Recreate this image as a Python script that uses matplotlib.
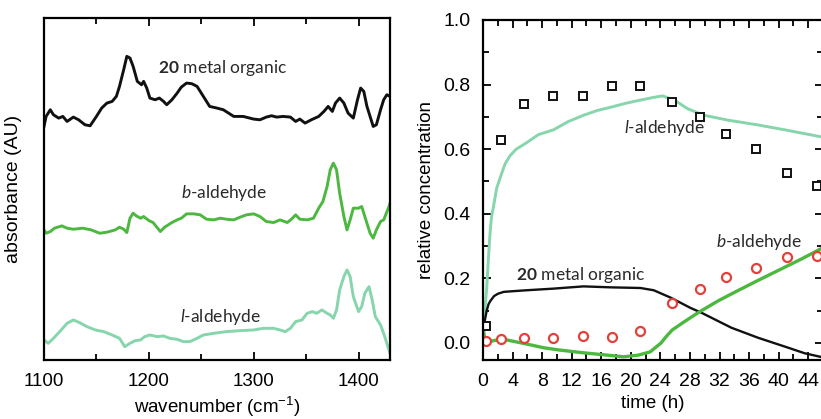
import matplotlib
matplotlib.use("Agg")
import matplotlib.pyplot as plt
from matplotlib.ticker import MultipleLocator, NullLocator, FormatStrFormatter

plt.rcParams['font.family'] = ['Liberation Sans', 'DejaVu Sans']
# annotations use a Calibri-like face with bold / italic parts via mathtext
plt.rcParams['mathtext.fontset'] = 'custom'
plt.rcParams['mathtext.rm'] = 'Lato'
plt.rcParams['mathtext.it'] = 'Lato:italic'
plt.rcParams['mathtext.bf'] = 'Lato:bold'
plt.rcParams['mathtext.sf'] = 'Liberation Sans'

# ---- left panel: IR spectra (arbitrary absorbance, offset traces) ----
wn_metal = [1100, 1102, 1106, 1109, 1114, 1118, 1122, 1128, 1133, 1139, 1144, 1150,
            1155, 1160, 1165, 1169, 1172, 1176, 1179, 1182, 1185, 1189, 1193, 1195,
            1198, 1201, 1206, 1210, 1214, 1217, 1222, 1227, 1231, 1236, 1241, 1246,
            1249, 1254, 1258, 1265, 1271, 1276, 1281, 1290, 1300, 1306, 1312, 1317,
            1322, 1328, 1335, 1340, 1344, 1349, 1355, 1362, 1367, 1371, 1375, 1378,
            1382, 1386, 1390, 1395, 1399, 1402, 1405, 1408, 1411, 1414, 1417, 1421,
            1424, 1427, 1430]
ab_metal = [0.700, 0.730, 0.750, 0.735, 0.725, 0.730, 0.715, 0.728, 0.720, 0.705, 0.702, 0.730,
            0.755, 0.770, 0.775, 0.790, 0.820, 0.870, 0.910, 0.905, 0.880, 0.835, 0.825, 0.835,
            0.815, 0.785, 0.780, 0.785, 0.775, 0.765, 0.780, 0.800, 0.818, 0.830, 0.828, 0.820,
            0.805, 0.780, 0.760, 0.755, 0.750, 0.740, 0.730, 0.730, 0.722, 0.720, 0.728, 0.732,
            0.728, 0.730, 0.728, 0.715, 0.722, 0.710, 0.720, 0.730, 0.745, 0.760, 0.745, 0.770,
            0.785, 0.770, 0.740, 0.725, 0.780, 0.815, 0.805, 0.760, 0.730, 0.700, 0.705, 0.750,
            0.780, 0.795, 0.790]

wn_b = [1100, 1102, 1106, 1110, 1117, 1122, 1128, 1137, 1145, 1153, 1160, 1168,
        1172, 1176, 1179, 1182, 1185, 1188, 1192, 1195, 1200, 1204, 1211, 1215,
        1222, 1227, 1231, 1236, 1243, 1249, 1255, 1262, 1268, 1274, 1281, 1287,
        1293, 1300, 1306, 1312, 1319, 1325, 1332, 1336, 1340, 1344, 1351, 1357,
        1362, 1366, 1370, 1373, 1376, 1379, 1382, 1386, 1389, 1392, 1395, 1400,
        1403, 1406, 1411, 1414, 1417, 1421, 1424, 1429, 1430]
ab_b = [0.390, 0.380, 0.385, 0.395, 0.402, 0.395, 0.392, 0.395, 0.390, 0.380, 0.383, 0.390,
        0.398, 0.392, 0.382, 0.425, 0.440, 0.432, 0.425, 0.430, 0.418, 0.412, 0.385, 0.398,
        0.412, 0.420, 0.425, 0.438, 0.438, 0.435, 0.422, 0.420, 0.425, 0.422, 0.420, 0.428,
        0.435, 0.438, 0.430, 0.415, 0.412, 0.420, 0.412, 0.422, 0.435, 0.422, 0.420, 0.425,
        0.455, 0.475, 0.520, 0.570, 0.590, 0.570, 0.500, 0.430, 0.390, 0.420, 0.455, 0.455,
        0.460, 0.430, 0.380, 0.365, 0.390, 0.415, 0.420, 0.460, 0.470]

wn_l = [1100, 1104, 1109, 1115, 1122, 1128, 1134, 1141, 1149, 1157, 1165, 1172,
        1177, 1182, 1187, 1192, 1196, 1201, 1208, 1214, 1220, 1227, 1233, 1239,
        1246, 1252, 1262, 1274, 1287, 1300, 1309, 1319, 1325, 1330, 1335, 1340,
        1346, 1351, 1356, 1360, 1365, 1370, 1373, 1376, 1379, 1382, 1386, 1389,
        1392, 1395, 1400, 1403, 1406, 1410, 1413, 1416, 1421, 1425, 1428, 1430]
ab_l = [0.060, 0.050, 0.065, 0.085, 0.110, 0.120, 0.112, 0.100, 0.090, 0.085, 0.075, 0.065,
        0.040, 0.050, 0.058, 0.060, 0.070, 0.075, 0.070, 0.072, 0.065, 0.062, 0.055, 0.055,
        0.065, 0.075, 0.080, 0.085, 0.088, 0.090, 0.095, 0.095, 0.090, 0.085, 0.095, 0.115,
        0.120, 0.140, 0.145, 0.140, 0.150, 0.140, 0.135, 0.125, 0.150, 0.210, 0.250, 0.270,
        0.250, 0.190, 0.145, 0.160, 0.200, 0.220, 0.180, 0.130, 0.105, 0.070, 0.040, 0.020]

# ---- right panel: concentration vs time ----
t_metal = [0, 0.25, 0.5, 0.75, 1.0, 1.5, 2.0, 2.8, 4, 5.9, 9.5, 13.6, 17.3, 21.3,
           23.1, 25.4, 28.1, 29.5, 33.6, 37.2, 41.3, 43.5, 46]
c_metal = [0.03, 0.07, 0.10, 0.12, 0.13, 0.145, 0.152, 0.158, 0.16, 0.163, 0.168,
           0.175, 0.172, 0.17, 0.163, 0.14, 0.108, 0.094, 0.047, 0.016, -0.015,
           -0.032, -0.045]

t_laldl = [0, 0.25, 0.5, 0.7, 0.95, 1.15, 1.4, 1.86, 2.6, 3.0, 3.67, 4.5, 5.9, 7.5,
           9.55, 11.5, 13.6, 15.5, 17.3, 19.3, 21.3, 23, 24.3, 25.9, 27.7, 29.9,
           33.1, 37.2, 40.8, 46]
c_laldl = [0.07, 0.10, 0.17, 0.25, 0.34, 0.39, 0.42, 0.48, 0.53, 0.555, 0.58, 0.60,
           0.62, 0.645, 0.66, 0.685, 0.705, 0.72, 0.73, 0.742, 0.752, 0.76, 0.765,
           0.752, 0.725, 0.705, 0.69, 0.675, 0.66, 0.637]

t_bald = [0, 0.3, 1, 2.6, 4.1, 6.2, 8.2, 10.3, 13.3, 16.4, 19, 21, 22.6, 23.3, 24.1,
          24.8, 25.6, 27.2, 29.2, 31.8, 33.9, 36.9, 40, 43.1, 46]
c_bald = [0.05, 0.0, 0.005, 0.012, 0.005, -0.005, -0.015, -0.022, -0.03, -0.037,
          -0.043, -0.038, -0.028, -0.015, 0.0, 0.02, 0.04, 0.065, 0.095, 0.13,
          0.155, 0.19, 0.225, 0.26, 0.295]

t_exp = [0.4, 2.5, 5.6, 9.5, 13.5, 17.4, 21.3, 25.6, 29.3, 32.9, 37.0, 41.1, 45.2]
c_exp_l = [0.053, 0.628, 0.741, 0.766, 0.765, 0.796, 0.797, 0.745, 0.699, 0.648,
           0.602, 0.525, 0.487]
c_exp_b = [0.006, 0.011, 0.016, 0.016, 0.02, 0.018, 0.037, 0.125, 0.168, 0.204,
           0.231, 0.267, 0.269]

lbl_metal = r'$\mathbf{20}$$\mathrm{\ metal\ organic}$'
lbl_b = r'$\mathit{b}\mathrm{\text{-}aldehyde}$'
lbl_l = r'$\mathit{l}\mathrm{\text{-}aldehyde}$'

col_black = '#111111'
col_b = '#4cb840'
col_l = '#86d5ac'
col_red = '#e2413a'
col_txt = '#2a2a2a'
ann_size = 12.5

fig = plt.figure(figsize=(8.21, 4.19), dpi=100)
ax1 = fig.add_axes([44 / 821, 59 / 419, 346 / 821, 342 / 419])
ax2 = fig.add_axes([483 / 821, 59 / 419, 340 / 821, 340 / 419])

lw = 2.1
ax1.plot(wn_metal, ab_metal, color=col_black, lw=lw)
ax1.plot(wn_b, ab_b, color=col_b, lw=lw)
ax1.plot(wn_l, ab_l, color=col_l, lw=lw)
ax1.set_xlim(1100, 1430)
ax1.set_ylim(0, 1.025)
ax1.xaxis.set_major_locator(MultipleLocator(100))
ax1.xaxis.set_minor_locator(MultipleLocator(50))
ax1.yaxis.set_major_locator(NullLocator())
ax1.tick_params(axis='x', which='both', direction='in', top=True, labelsize=13.5, pad=9)
ax1.tick_params(axis='x', which='major', length=6, width=1.3)
ax1.tick_params(axis='x', which='minor', length=4, width=1.3)
ax1.set_xlabel('wavenumber (cm$^{\\mathsf{-1}}$)', fontsize=13.5, labelpad=4)
ax1.set_ylabel('absorbance (AU)', fontsize=14, labelpad=16)
ax1.text(1270, 0.875, lbl_metal, fontsize=ann_size, ha='center', va='center', color=col_txt)
ax1.text(1272, 0.500, lbl_b, fontsize=ann_size, ha='center', va='center', color=col_txt)
ax1.text(1268, 0.129, lbl_l, fontsize=ann_size, ha='center', va='center', color=col_txt)

ax2.plot(t_laldl, c_laldl, color=col_l, lw=lw)
ax2.plot(t_metal, c_metal, color=col_black, lw=1.7)
ax2.plot(t_bald, c_bald, color=col_b, lw=2.4)
ax2.plot(t_exp, c_exp_l, ls='none', marker='s', ms=6, mfc='white', mec=col_black, mew=1.4)
ax2.plot(t_exp, c_exp_b, ls='none', marker='o', ms=6.5, mfc='white', mec=col_red, mew=1.6)
ax2.set_xlim(0, 46)
ax2.set_ylim(-0.053, 1.0)
ax2.xaxis.set_major_locator(MultipleLocator(4))
ax2.xaxis.set_minor_locator(MultipleLocator(2))
ax2.yaxis.set_major_locator(MultipleLocator(0.2))
ax2.yaxis.set_minor_locator(MultipleLocator(0.1))
ax2.tick_params(which='both', direction='in', top=True, right=True, labelsize=14, pad=9)
ax2.tick_params(which='major', length=6, width=1.3)
ax2.tick_params(which='minor', length=4, width=1.3)
ax2.yaxis.set_major_formatter(FormatStrFormatter('%.1f'))
ax2.set_xlabel('time (h)', fontsize=13.5, labelpad=4)
ax2.set_ylabel('relative concentration', fontsize=13.5, labelpad=6)
ax2.text(24.5, 0.666, lbl_l, fontsize=ann_size, ha='center', va='center', color=col_txt)
ax2.text(37.4, 0.313, lbl_b, fontsize=ann_size, ha='center', va='center', color=col_txt)
ax2.text(13.2, 0.21, lbl_metal, fontsize=ann_size, ha='center', va='center', color=col_txt)

for ax in (ax1, ax2):
    for sp in ax.spines.values():
        sp.set_linewidth(1.6)

fig.savefig('out.png', dpi=100)
